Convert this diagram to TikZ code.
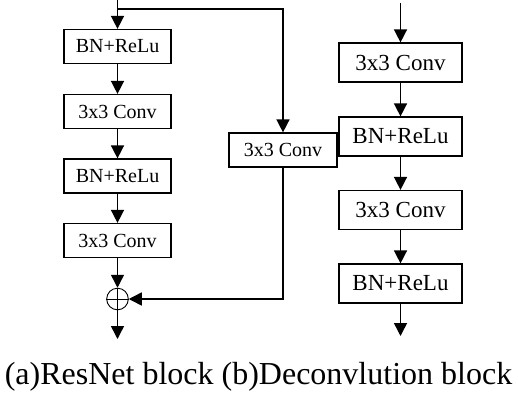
\documentclass[tikz,border=0pt]{standalone}
\usepackage{fontspec}
\setmainfont{Liberation Serif}
\usetikzlibrary{arrows.meta}
\begin{document}
\begin{tikzpicture}[x=1pt,y=-1pt,
  line width=1.5pt,
  arr/.style={-{Triangle[width=13pt,length=13pt]}},
  sbox/.style={draw,line width=1.2pt,minimum width=107pt,minimum height=34pt,inner sep=0pt,font=\fontsize{20}{22}\selectfont},
  bbox/.style={draw,line width=1.2pt,minimum width=123pt,minimum height=39pt,inner sep=0pt,font=\fontsize{23}{25}\selectfont},
  addc/.style={draw,circle,line width=0.9pt,minimum size=21.6pt,inner sep=0pt}]
\useasboundingbox (0,0) rectangle (518,396);
% left column (ResNet block)
\coordinate (in) at (117.5,0);
\coordinate (j) at (117.5,9);
\node[sbox] (l1) at (117.5,46.5) {BN+ReLu};
\node[sbox] (l2) at (117.5,111.5) {3x3 Conv};
\node[sbox] (l3) at (117.5,176) {BN+ReLu};
\node[sbox] (l4) at (117.5,240.5) {3x3 Conv};
\node[addc] (c) at (117.5,299) {};
\draw[line width=0.9pt] (c.north) -- (c.south) (c.west) -- (c.east);
\coordinate (out) at (117.5,339);
\node[sbox,minimum width=108pt] (m) at (283,150) {3x3 Conv};
\draw[arr] (in) -- (l1);
\draw[arr] (l1) -- (l2);
\draw[arr] (l2) -- (l3);
\draw[arr] (l3) -- (l4);
\draw[arr] (l4) -- (c);
\draw[arr] (c) -- (out);
\draw[arr] (j) -| (m);
\draw[arr] (m.south) |- (c.east);
% right column (Deconvolution block)
\coordinate (rin) at (400.5,3);
\node[bbox] (r1) at (400.5,62.5) {3x3 Conv};
\node[bbox] (r2) at (400.5,136.5) {BN+ReLu};
\node[bbox] (r3) at (400.5,210) {3x3 Conv};
\node[bbox] (r4) at (400.5,283.5) {BN+ReLu};
\coordinate (rout) at (400.5,336);
\draw[arr] (rin) -- (r1);
\draw[arr] (r1) -- (r2);
\draw[arr] (r2) -- (r3);
\draw[arr] (r3) -- (r4);
\draw[arr] (r4) -- (rout);
% caption
\node[anchor=base,inner sep=0pt,font=\fontsize{32}{36}\selectfont] (cap) at (258.5,384) {(a)ResNet block (b)Deconvlution block};
\end{tikzpicture}
\end{document}
